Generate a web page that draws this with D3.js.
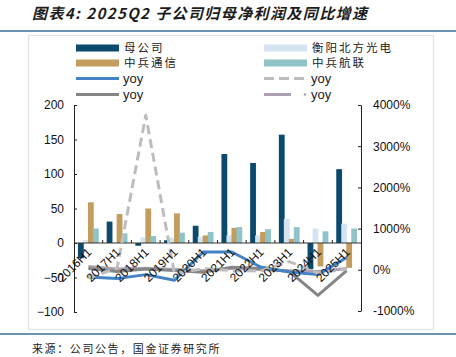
<!DOCTYPE html>
<html><head><meta charset="utf-8">
<script src="https://cdn.jsdelivr.net/npm/d3@7"></script>
<style>
body{margin:0;background:#fff;}
svg{display:block;}
</style></head>
<body>
<svg id="c" width="456" height="357"></svg>
<script>
const categories = ["2016H1","2017H1","2018H1","2019H1","2020H1","2021H1","2022H1","2023H1","2024H1","2025H1"];
const seriesNames = ["母公司","衡阳北方光电","中兵通信","中兵航联"];
const parentProfit = [-22, 31, -4, 4, 25, 129, 116, 157, -38, 107];
const hengyangProfit = [4, 0.5, 8, 8, 9, 11, 11, 35, 21, 28];
const zbtxProfit = [59, 42, 50, 43, 11, 22, 16, 6, -34, -36];
const zbhlProfit = [21, 14, 10, 15, 16, 23, 20, 23, 17, 21];
const parentYoy = [-175, -214, -117, -255, 433, 433, 68, -53, -117, 300];
const hengyangYoy = [-200, 40, 3750, -100, 30, -20, -30, 200, -80, 20];
const zbtxYoy = [30, -40, 20, -20, -60, 60, 30, -40, -620, -20];
const zbhlYoy = [80, 20, 40, 10, -20, 40, 10, -20, -40, 30];
const leftTicks = [-100, -50, 0, 50, 100, 150, 200];
const rightTicks = [-1000, 0, 1000, 2000, 3000, 4000];

const svg = d3.select("#c");
const barColors = ["#0b4a6e", "#d4e4f3", "#c29d5d", "#90c3c8"];
const lineStyles = [
  {c:"#4382c6", dash:null},
  {c:"#bdbdbd", dash:"9,5"},
  {c:"#858585", dash:null},
  {c:"#ab9fb0", dash:null}
];

// frame
svg.append("text").attr("x",32).attr("y",19).attr("font-family","'Noto Sans CJK SC'")
  .attr("font-size",15).attr("font-weight","bold").attr("font-style","italic")
  .attr("letter-spacing",1.4).attr("fill","#1c1c1c")
  .text("图表4: 2025Q2 子公司归母净利润及同比增速");
svg.append("line").attr("x1",0).attr("x2",456).attr("y1",31).attr("y2",31)
  .attr("stroke","#3a6f96").attr("stroke-width",1.5);
svg.append("rect").attr("x",28.5).attr("y",35.5).attr("width",405).attr("height",294)
  .attr("fill","#fff").attr("stroke","#e2e2e2").attr("stroke-width",1.2);
svg.append("line").attr("x1",0).attr("x2",456).attr("y1",334).attr("y2",334)
  .attr("stroke","#3a6f96").attr("stroke-width",1.5);
svg.append("text").attr("x",32).attr("y",353).attr("font-family","'Noto Sans CJK SC'")
  .attr("font-size",11).attr("letter-spacing",1.6).attr("fill","#222")
  .text("来源：公司公告，国金证券研究所");

// scales
const x = d3.scaleBand().domain(categories).range([74, 361]);
const yL = d3.scaleLinear().domain([-100, 200]).range([312, 105]);
const yR = d3.scaleLinear().domain([-1000, 4000]).range([311, 105]);
const inner = d3.scaleBand().domain(seriesNames).range([0, 20]).paddingInner(-0.15);
const bw = 5.8;
const groupOff = (x.bandwidth() - 20.8) / 2;

const barData = [parentProfit, hengyangProfit, zbtxProfit, zbhlProfit];
barData.forEach((vals, si) => {
  svg.append("g").selectAll("rect").data(vals).join("rect")
    .attr("x", (d,i) => x(categories[i]) + groupOff + si*5)
    .attr("width", bw)
    .attr("y", d => yL(Math.max(0,d)))
    .attr("height", d => Math.abs(yL(d) - yL(0)))
    .attr("fill", barColors[si]);
});

// axes
const axL = svg.append("g").attr("transform","translate(74,0)")
  .call(d3.axisLeft(yL).tickValues(leftTicks).tickSize(-3).tickSizeOuter(0).tickPadding(10).tickFormat(d3.format("d")));
const axR = svg.append("g").attr("transform","translate(361,0)")
  .call(d3.axisRight(yR).tickValues(rightTicks).tickSize(-3).tickSizeOuter(0).tickPadding(12).tickFormat(d => d + "%"));
[axL, axR].forEach(a => {
  a.selectAll("text").attr("font-family","'Liberation Sans', Arial").attr("font-size",12).attr("fill","#111");
  a.selectAll("line,path").attr("stroke","#222");
});
// zero axis
const zeroY = yL(0);
svg.append("line").attr("x1",74).attr("x2",361).attr("y1",zeroY).attr("y2",zeroY).attr("stroke","#333").attr("stroke-width",1.2);
svg.append("g").selectAll("line").data(categories.slice(1)).join("line")
  .attr("x1", d => x(d)).attr("x2", d => x(d)).attr("y1", zeroY).attr("y2", zeroY-3)
  .attr("stroke","#222");

// lines
const lineData = [parentYoy, hengyangYoy, zbtxYoy, zbhlYoy];
const lineGen = d3.line().x((d,i) => x(categories[i]) + x.bandwidth()/2).y(d => yR(d));
const drawOrder = [3, 2, 0, 1];
drawOrder.forEach(si => {
  const p = svg.append("path").datum(lineData[si]).attr("d", lineGen)
    .attr("fill","none").attr("stroke", lineStyles[si].c).attr("stroke-width",3)
    .attr("stroke-linejoin","round");
  if (lineStyles[si].dash) p.attr("stroke-dasharray", lineStyles[si].dash);
});

// x labels
svg.append("g").selectAll("text").data(categories).join("text")
  .attr("transform", d => `translate(${x(d) + x.bandwidth()/2 + 1},${zeroY + 7}) rotate(-45)`)
  .attr("text-anchor","end").attr("dy","0.35em")
  .attr("font-family","'Liberation Sans', Arial").attr("font-size",12).attr("fill","#111")
  .text(d => d);

// legend
const lg = svg.append("g");
const lgRows = [
  {x:76, y:48, type:"bar", c:barColors[0], t:seriesNames[0], cn:true},
  {x:264, y:48, type:"bar", c:barColors[1], t:seriesNames[1], cn:true},
  {x:76, y:63, type:"bar", c:barColors[2], t:seriesNames[2], cn:true},
  {x:264, y:63, type:"bar", c:barColors[3], t:seriesNames[3], cn:true},
  {x:76, y:78.5, type:"line", s:lineStyles[0], t:"yoy"},
  {x:264, y:78.5, type:"line", s:lineStyles[1], t:"yoy"},
  {x:76, y:94.5, type:"line", s:lineStyles[2], t:"yoy"},
  {x:264, y:94.5, type:"dashdot", s:lineStyles[3], t:"yoy"}
];
lgRows.forEach(r => {
  if (r.type === "bar") {
    lg.append("rect").attr("x", r.x).attr("y", r.y - 3.5).attr("width", 43).attr("height", 7).attr("fill", r.c);
  } else if (r.type === "line") {
    const l = lg.append("line").attr("x1", r.x).attr("x2", r.x + 43).attr("y1", r.y).attr("y2", r.y)
      .attr("stroke", r.s.c).attr("stroke-width", 3);
    if (r.s.dash) l.attr("stroke-dasharray", "10,5");
  } else {
    lg.append("line").attr("x1", r.x).attr("x2", r.x + 27).attr("y1", r.y).attr("y2", r.y)
      .attr("stroke", r.s.c).attr("stroke-width", 3);
    lg.append("circle").attr("cx", r.x + 41).attr("cy", r.y).attr("r", 1.3).attr("fill", r.s.c);
  }
  const t = lg.append("text").attr("x", r.type === "bar" ? r.x + 48 : r.x + 47).attr("y", r.y).attr("dy","0.36em")
    .attr("fill","#222").text(r.t);
  if (r.cn) t.attr("font-family","'Noto Sans CJK SC'").attr("font-size",11.5).attr("letter-spacing",2);
  else t.attr("font-family","'Liberation Sans', Arial").attr("font-size",13);
});
</script>
</body></html>
